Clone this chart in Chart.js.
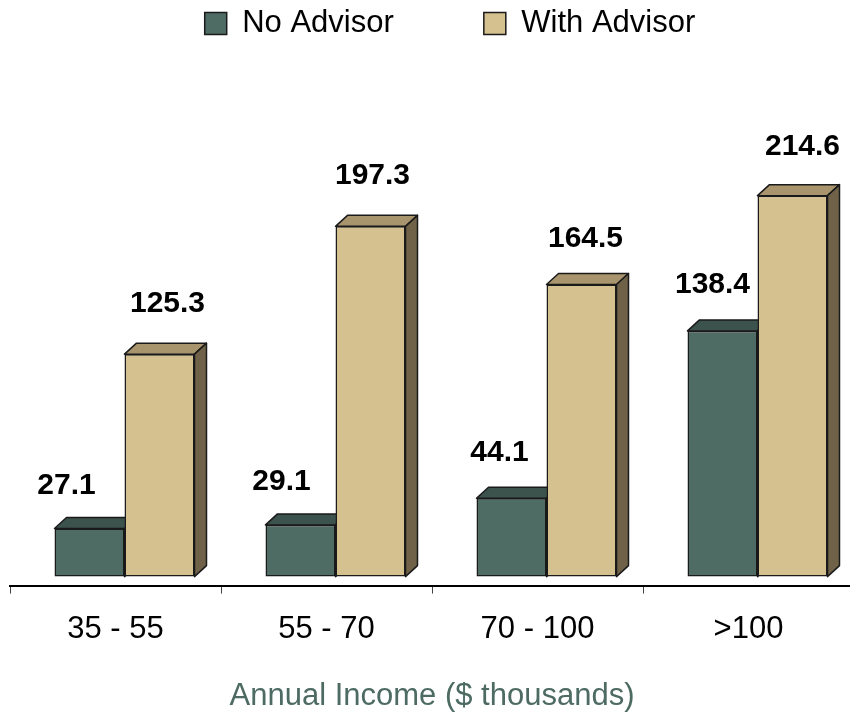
<!DOCTYPE html>
<html>
<head>
<meta charset="utf-8">
<script src="https://cdn.jsdelivr.net/npm/chart.js@4.4.1/dist/chart.umd.min.js"></script>
<style>
  html, body { margin: 0; padding: 0; overflow: hidden; background: #fff; }
  canvas { display: block; }
</style>
</head>
<body>
<canvas id="chart_advisor" width="890" height="716"></canvas>
<script>
var categories = ['35 - 55', '55 - 70', '70 - 100', '>100'];
var noAdvisor = [27.1, 29.1, 44.1, 138.4];
var withAdvisor = [125.3, 197.3, 164.5, 214.6];

Chart.defaults.font.family = 'Arial, "Liberation Sans", sans-serif';
Chart.defaults.color = '#000';

// fake 3D: top and side faces behind the front faces, then the value labels
const bars3d = {
    id: 'bars3d',
    beforeDatasetsDraw(chart, args, opts) {
        const ctx = chart.ctx;
        ctx.save();
        ctx.translate(opts.shift, 0);
        chart.data.datasets.forEach(function (ds, i) {
            chart.getDatasetMeta(i).data.forEach(function (bar) {
                const left = bar.x - bar.width / 2;
                const right = bar.x + bar.width / 2;
                ctx.lineWidth = 1.5;
                ctx.lineJoin = 'round';
                ctx.strokeStyle = ds.borderColor;

                // top face
                ctx.beginPath();
                ctx.moveTo(left, bar.y);
                ctx.lineTo(left + opts.dx, bar.y - opts.dy);
                ctx.lineTo(right + opts.dx, bar.y - opts.dy);
                ctx.lineTo(right, bar.y);
                ctx.closePath();
                ctx.fillStyle = ds.topColor;
                ctx.fill();
                ctx.stroke();

                // side face
                ctx.beginPath();
                ctx.moveTo(right, bar.y);
                ctx.lineTo(right + opts.dx, bar.y - opts.dy);
                ctx.lineTo(right + opts.dx, bar.base - opts.dy);
                ctx.lineTo(right, bar.base);
                ctx.closePath();
                ctx.fillStyle = ds.sideColor;
                ctx.fill();
                ctx.stroke();
            });
        });
    },
    afterDatasetsDraw(chart, args, opts) {
        const ctx = chart.ctx;
        ctx.font = 'bold 30px Arial, "Liberation Sans", sans-serif';
        ctx.fillStyle = '#000';
        ctx.textAlign = 'center';
        ctx.textBaseline = 'middle';
        chart.data.datasets.forEach(function (ds, i) {
            chart.getDatasetMeta(i).data.forEach(function (bar, j) {
                const off = opts.labelOffsets[i][j];
                ctx.fillText(ds.data[j].toFixed(1), bar.x + off[0], bar.y + off[1]);
            });
        });
        ctx.restore();
    }
};

let dados = {
    labels: categories,
    datasets: [{
        label: 'No Advisor',
        data: noAdvisor,
        backgroundColor: '#4e6b64',
        topColor: '#3c524c',
        sideColor: '#2f423d',
        borderColor: '#1a1a1a',
        borderWidth: 1.5,
        borderSkipped: false
    }, {
        label: 'With Advisor',
        data: withAdvisor,
        backgroundColor: '#d5c08f',
        topColor: '#a8956d',
        sideColor: '#6f6249',
        borderColor: '#1a1a1a',
        borderWidth: 1.5,
        borderSkipped: false
    }]
};

const config = {
    type: 'bar',
    data: dados,
    options: {
        responsive: false,
        animation: false,
        categoryPercentage: 0.6635,
        barPercentage: 1,
        layout: { padding: { top: -82, left: 10, right: 0, bottom: 0 } },
        plugins: {
            tooltip: { enabled: false },
            legend: {
                position: 'top',
                labels: {
                    font: { size: 31 },
                    color: '#000',
                    boxWidth: 22,
                    boxHeight: 22,
                    padding: 90
                }
            },
            bars3d: {
                shift: 9,
                dx: 12,
                dy: 11,
                labelOffsets: [
                    [[-23, -43], [-19, -43], [-12, -46], [-10, -46]],
                    [[8, -50], [2, -51], [4, -46], [10, -49]]
                ]
            }
        },
        scales: {
            x: {
                grid: { display: true, drawOnChartArea: false, drawTicks: true, tickLength: 8, color: '#444', lineWidth: 1, offset: true },
                border: { display: true, color: '#000', width: 2 },
                ticks: { font: { size: 31 }, color: '#000', padding: 17, maxRotation: 0, autoSkip: false },
                title: {
                    display: true,
                    text: 'Annual Income ($ thousands)',
                    color: '#4d6b63',
                    font: { size: 31 },
                    padding: { top: 13, bottom: 1 }
                }
            },
            y: {
                position: 'right',
                min: -5.08,
                max: 297.2,
                grid: { display: false },
                border: { display: false },
                ticks: { display: false },
                afterFit: function (scale) { scale.width = 36; }
            }
        }
    },
    plugins: [bars3d]
};

let myChart = new Chart(
    document.getElementById('chart_advisor'),
    config,
);
</script>
</body>
</html>
